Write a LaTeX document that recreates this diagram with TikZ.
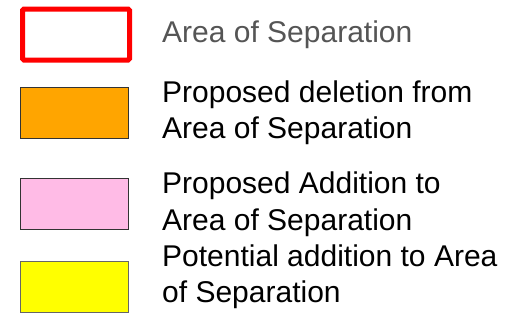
\documentclass[tikz,border=0pt]{standalone}
\usepackage{fontspec}
\setmainfont{Liberation Sans}
\usetikzlibrary{positioning}

\definecolor{sepred}{RGB}{255,0,0}
\definecolor{sepgray}{RGB}{85,85,85}
\definecolor{delorange}{RGB}{255,165,0}
\definecolor{addpink}{RGB}{255,187,230}
\definecolor{potyellow}{RGB}{255,255,0}

\begin{document}
\begin{tikzpicture}[x=1pt,y=-1pt,
    keybox/.style={draw=black!80,line width=1pt,minimum width=108pt,minimum height=51pt,inner sep=0pt,anchor=north west},
    keytext/.style={anchor=base west,inner sep=0pt,align=left,font=\fontsize{30}{36.5}\selectfont}]
    \useasboundingbox (0,0) rectangle (522,327);

    % legend boxes
    \node[keybox,draw=sepred,line width=5pt,rounded corners=1.5pt,minimum width=107pt,minimum height=51pt] (sepbox) at (20,6.5) {};
    \node[keybox,fill=delorange] (delbox) at (20,86.5) {};
    \node[keybox,fill=addpink] (addbox) at (20,177.8) {};
    \node[keybox,draw=black!60,fill=potyellow] (potbox) at (20,260.5) {};

    % legend texts (base = last line)
    \node[keytext,text=sepgray] (septext) at (162,42) {Area of Separation};
    \node[keytext] (deltext) at (162,138.5) {Proposed deletion from\\Area of Separation};
    \node[keytext] (addtext) at (162,230) {Proposed Addition to\\Area of Separation};
    \node[keytext] (pottext) at (162,302.5) {Potential addition to Area\\of Separation};
\end{tikzpicture}
\end{document}
